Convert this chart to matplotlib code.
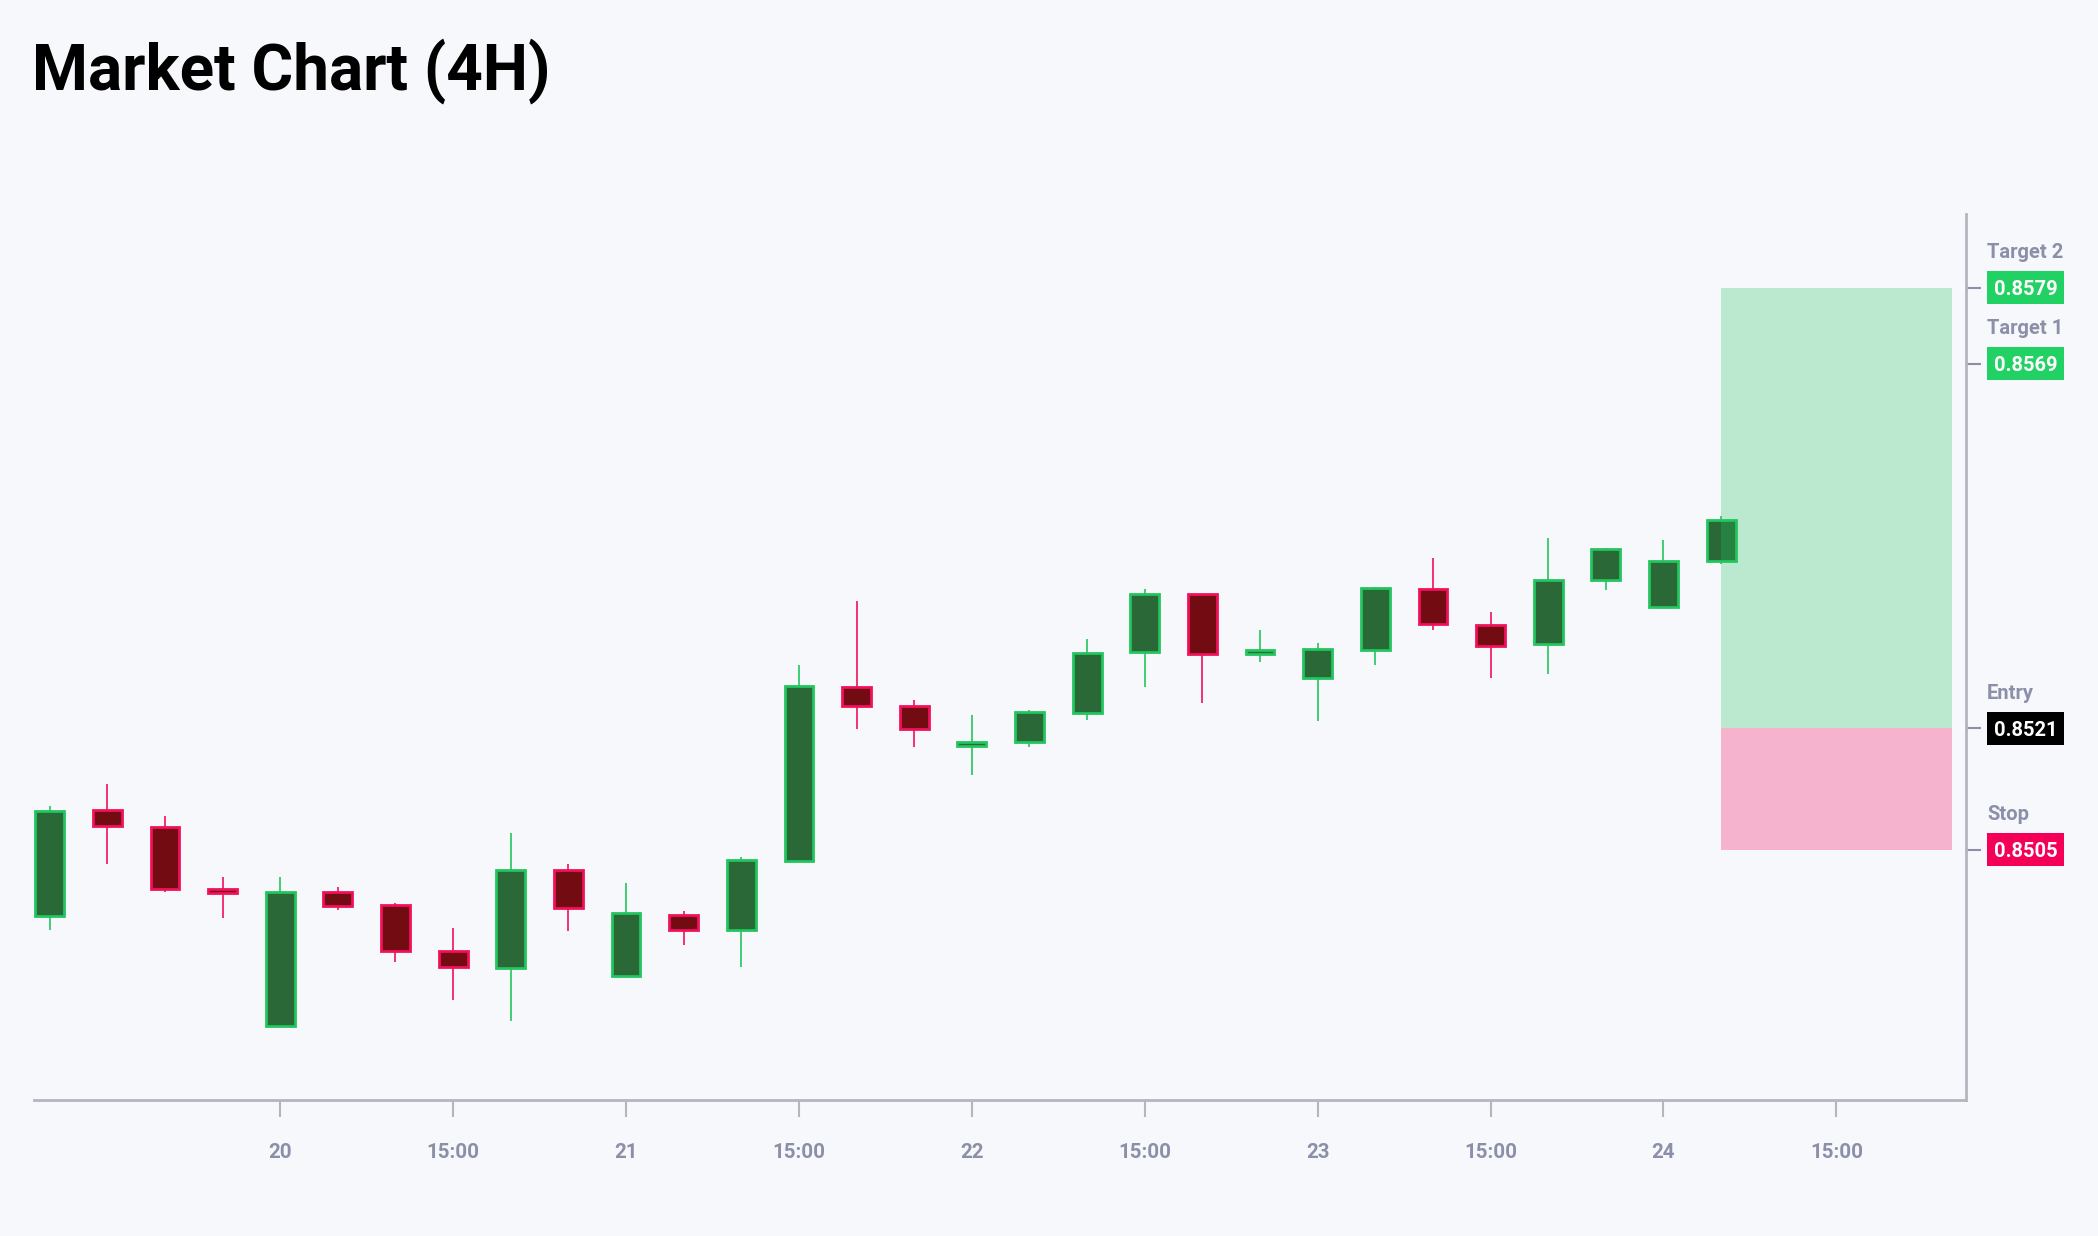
import matplotlib
matplotlib.use("Agg")
import matplotlib.pyplot as plt
import matplotlib.transforms as mtransforms
from matplotlib.patches import Rectangle

# 4H candles (index 4 = day 20 00:00)
opens = [0.84963, 0.85102, 0.85080, 0.84998, 0.84818, 0.84995, 0.84978, 0.84917,
         0.84895, 0.85024, 0.84884, 0.84965, 0.84944, 0.85035, 0.85264, 0.85239,
         0.85187, 0.85192, 0.85231, 0.85311, 0.85387, 0.85308, 0.85277, 0.85313,
         0.85394, 0.85346, 0.85321, 0.85405, 0.85370, 0.85430]
highs = [0.85108, 0.85137, 0.85095, 0.85015, 0.85015, 0.85001, 0.84980, 0.84947,
         0.85072, 0.85032, 0.85007, 0.84970, 0.85041, 0.85294, 0.85378, 0.85247,
         0.85228, 0.85234, 0.85328, 0.85393, 0.85387, 0.85340, 0.85323, 0.85396,
         0.85435, 0.85364, 0.85461, 0.85447, 0.85458, 0.85490]
lows = [0.84944, 0.85031, 0.84995, 0.84960, 0.84818, 0.84971, 0.84903, 0.84853,
        0.84825, 0.84943, 0.84884, 0.84925, 0.84896, 0.85035, 0.85209, 0.85185,
        0.85149, 0.85186, 0.85221, 0.85265, 0.85243, 0.85298, 0.85220, 0.85294,
        0.85340, 0.85277, 0.85282, 0.85392, 0.85370, 0.85427]
closes = [0.85101, 0.85082, 0.84998, 0.84994, 0.84995, 0.84976, 0.84917, 0.84896,
          0.85024, 0.84973, 0.84967, 0.84945, 0.85037, 0.85266, 0.85239, 0.85209,
          0.85192, 0.85232, 0.85310, 0.85387, 0.85308, 0.85313, 0.85315, 0.85395,
          0.85347, 0.85319, 0.85405, 0.85446, 0.85431, 0.85485]

tick_pos = [4, 7, 10, 13, 16, 19, 22, 25, 28, 31]
tick_labels = ["20", "15:00", "21", "15:00", "22", "15:00", "23", "15:00", "24", "15:00"]

level_names = ["Target 2", "Target 1", "Entry", "Stop"]
level_values = [0.8579, 0.8569, 0.8521, 0.8505]
level_colors = ["#22d163", "#22d163", "#000000", "#f50057"]

entry = 0.8521
stop = 0.8505
target = 0.8579

BG = "#f7f8fc"
UP_EDGE, UP_FILL = "#22c55e", "#2a6837"
DN_EDGE, DN_FILL = "#f0115a", "#730b12"
GRAY = "#8b8fa8"

plt.rcParams["font.family"] = ["Roboto", "DejaVu Sans"]

fig = plt.figure(figsize=(20.98, 12.36), dpi=100, facecolor=BG)
ax = fig.add_axes([0.01597, 0.11003, 0.92088, 0.71683])
ax.set_facecolor(BG)

n = len(opens)
xs = list(range(n))
for i in xs:
    o, h, l, c = opens[i], highs[i], lows[i], closes[i]
    up = c >= o
    edge = UP_EDGE if up else DN_EDGE
    fill = UP_FILL if up else DN_FILL
    ax.vlines(i, l, h, color=edge, linewidth=1.2, zorder=2)
    bottom = min(o, c)
    height = max(abs(c - o), 0.00003)
    ax.bar(i, height, bottom=bottom, width=0.5, color=fill, edgecolor=edge,
           linewidth=2.0, zorder=3)

# risk / reward zone starting at the last candle
last = n - 1
ax.add_patch(Rectangle((last, entry), 33 - last, target - entry,
                       facecolor="#22c55e", alpha=0.28, edgecolor="none", zorder=4))
ax.add_patch(Rectangle((last, stop), 33 - last, entry - stop,
                       facecolor="#f50057", alpha=0.28, edgecolor="none", zorder=4))

ax.set_xlim(-0.28, 33.24)
ax.set_ylim(0.847208, 0.858874)

ax.set_xticks(tick_pos)
ax.set_xticklabels(tick_labels)
ax.tick_params(axis="x", length=12, width=1.5, color="#b4b5bf", pad=19,
               labelsize=14.8, labelcolor=GRAY)
for lab in ax.get_xticklabels():
    lab.set_fontweight("bold")

ax.yaxis.tick_right()
ax.set_yticks(level_values)
ax.set_yticklabels([])
ax.tick_params(axis="y", length=10.5, width=1.5, color=GRAY)

for side in ["top", "left"]:
    ax.spines[side].set_visible(False)
for side in ["bottom", "right"]:
    ax.spines[side].set_color("#b4b5bf")
    ax.spines[side].set_linewidth(2)

# price tags on the right
trans = mtransforms.blended_transform_factory(ax.transAxes, ax.transData)
px_per_unit = 886 / (0.858874 - 0.847208)
box_h = 33 / px_per_unit
box_w = 77 / 1932
box_x = (1987 - 33.5) / 1932
for name, val, col in zip(level_names, level_values, level_colors):
    ax.add_patch(Rectangle((box_x, val - box_h / 2), box_w, box_h, transform=trans,
                           facecolor=col, edgecolor="none", clip_on=False, zorder=5))
    ax.text(box_x + box_w / 2, val, f"{val:.4f}", transform=trans, ha="center",
            va="center_baseline", color="white", fontsize=14.5, fontweight="bold",
            zorder=6, clip_on=False)
    ax.text(box_x, val + 37 / px_per_unit, name, transform=trans, ha="left",
            va="center_baseline", color=GRAY, fontsize=14.5, fontweight="bold",
            clip_on=False)

fig.text(32 / 2098, 1 - 90 / 1236, "Market Chart (4H)", fontsize=46,
         fontweight="bold", color="#000000", ha="left", va="baseline")

fig.savefig("out.png", dpi=100, facecolor=BG)
